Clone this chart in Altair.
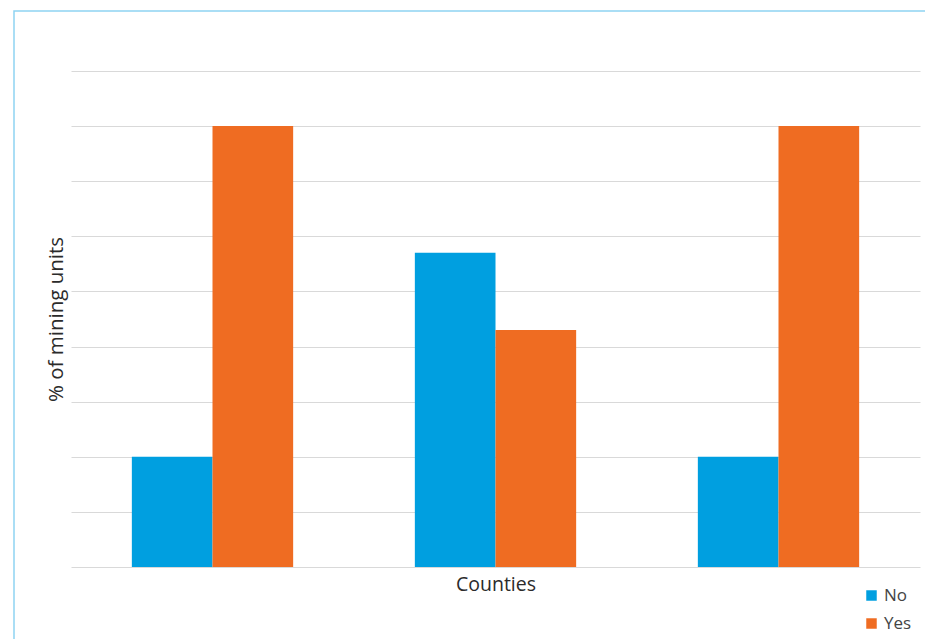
import altair as alt
import pandas as pd

counties = ["County 1", "County 1", "County 2", "County 2", "County 3", "County 3"]
answers = ["No", "Yes", "No", "Yes", "No", "Yes"]
percent = [20, 80, 57, 43, 20, 80]
grid_values = [0, 10, 20, 30, 40, 50, 60, 70, 80, 90]

df = pd.DataFrame({"county": counties, "answer": answers, "percent": percent})

frame = alt.Chart(pd.DataFrame({"d": [0]})).mark_rect(
    fill=None, stroke="#8fd3f2", strokeWidth=1.5, clip=False
).encode(
    x=alt.value(-57), x2=alt.value(900), y=alt.value(-60), y2=alt.value(700)
)

bars = alt.Chart(df).mark_bar().encode(
    x=alt.X("county:N", title="Counties",
            scale=alt.Scale(paddingInner=0.43, paddingOuter=0.215),
            axis=alt.Axis(labels=False, ticks=False, domain=False,
                          titleFontSize=19.5, titleFont="Open Sans", titleFontWeight="normal",
                          titleColor="#2b2b2b", titlePadding=8)),
    xOffset=alt.XOffset("answer:N", scale=alt.Scale(paddingInner=0, paddingOuter=0)),
    y=alt.Y("percent:Q", title="% of mining units",
            scale=alt.Scale(domain=[0, 90], nice=False),
            axis=alt.Axis(labels=False, ticks=False, domain=False,
                          values=grid_values,
                          gridColor="#d9d9d9", gridWidth=1,
                          titleFontSize=20.5, titleFont="Open Sans", titleFontWeight="normal",
                          titleColor="#2b2b2b", titlePadding=5)),
    color=alt.Color("answer:N", title=None,
                    scale=alt.Scale(domain=["No", "Yes"], range=["#009fe0", "#ef6c22"]),
                    legend=alt.Legend(orient="none", legendX=792, legendY=516,
                                      symbolType="square", symbolSize=110,
                                      symbolStrokeWidth=0,
                                      labelFontSize=17, labelFont="Open Sans",
                                      labelColor="#444444", rowPadding=10,
                                      labelOffset=4)),
)

chart = alt.layer(frame, bars).properties(
    width=849, height=496,
    autosize=alt.AutoSizeParams(type="none"),
    padding={"left": 71, "top": 71, "right": 5, "bottom": 72},
).configure(background="white").configure_view(stroke=None)

chart.save("out.html", embed_options={"renderer": "svg", "actions": False})
